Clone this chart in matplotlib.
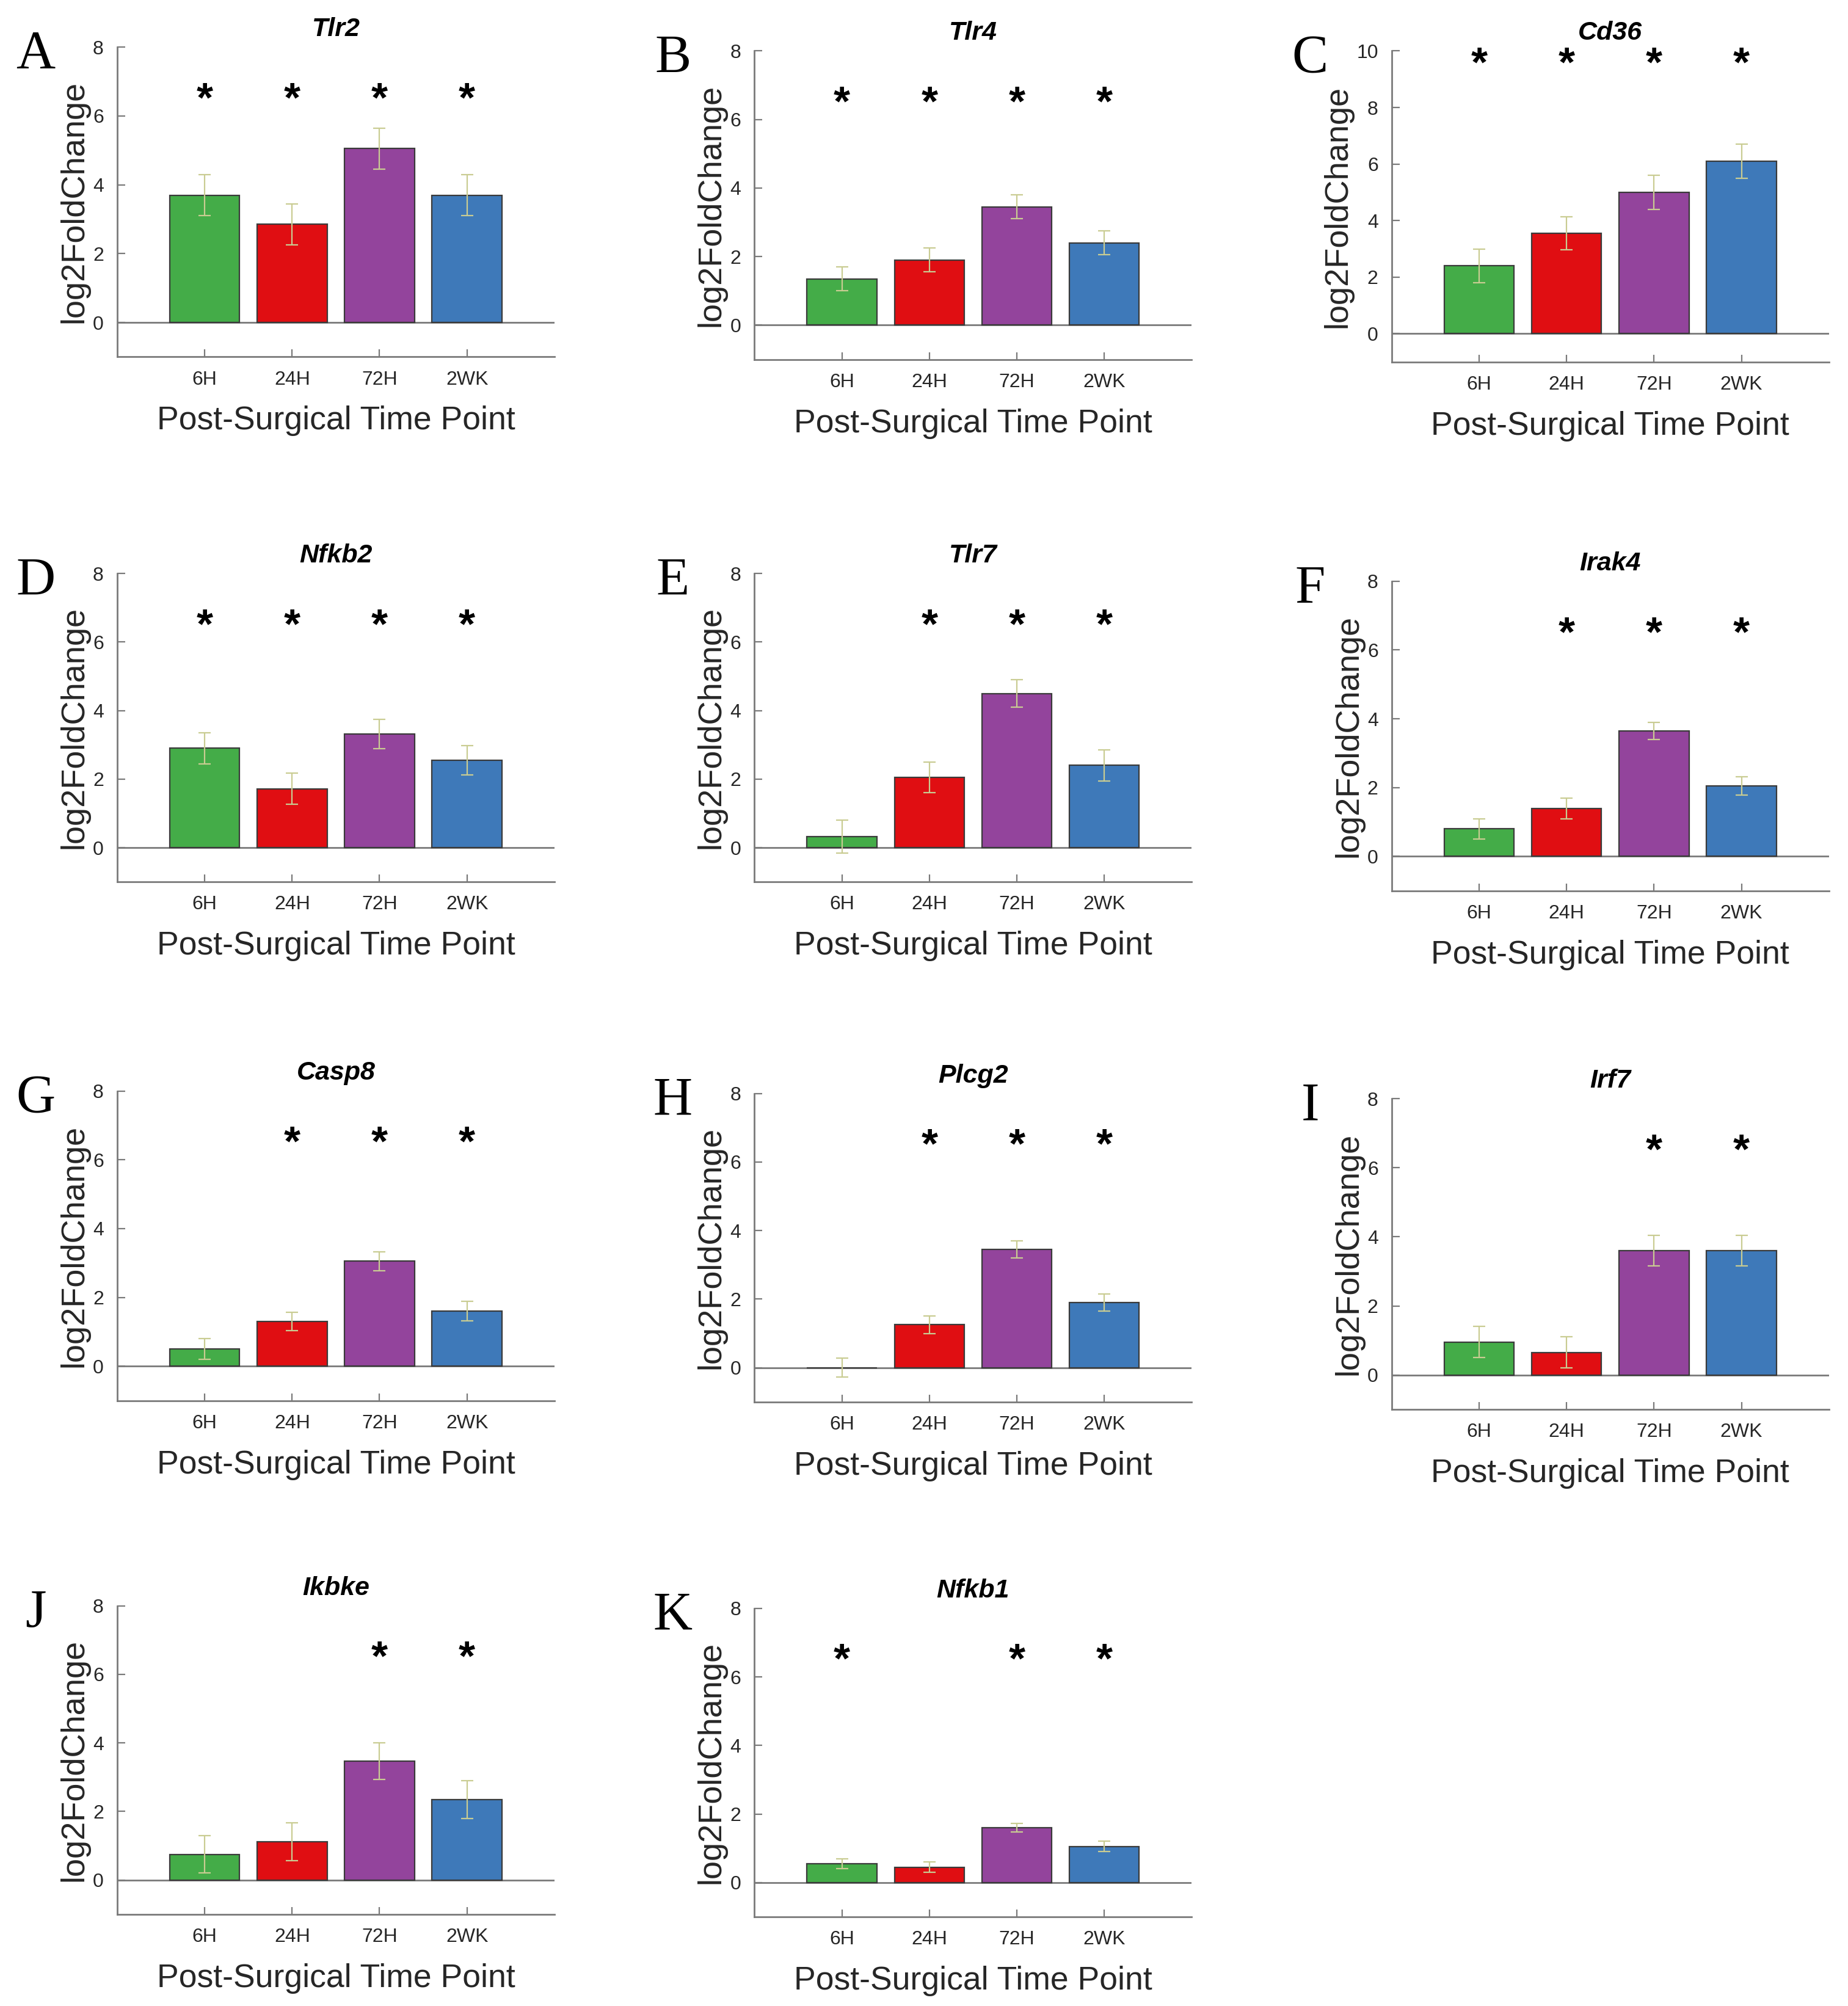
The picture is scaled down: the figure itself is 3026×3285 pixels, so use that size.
####################################################################################################
# Import Dependencies:
####################################################################################################
import numpy as np
import matplotlib
matplotlib.use("Agg")
import matplotlib.pyplot as plt

####################################################################################################
# Data
####################################################################################################
timePoints = ['6H', '24H', '72H', '2WK']
panelLetters = ['A', 'B', 'C', 'D', 'E', 'F', 'G', 'H', 'I', 'J', 'K']
geneNames = ['Tlr2', 'Tlr4', 'Cd36', 'Nfkb2', 'Tlr7', 'Irak4', 'Casp8', 'Plcg2', 'Irf7', 'Ikbke', 'Nfkb1']

tlr2 = [3.70, 2.85, 5.05, 3.70]
tlr4 = [1.35, 1.90, 3.45, 2.40]
cd36 = [2.40, 3.55, 5.00, 6.10]
nfkb2 = [2.90, 1.72, 3.32, 2.55]
tlr7 = [0.32, 2.05, 4.50, 2.40]
irak4 = [0.80, 1.40, 3.65, 2.05]
casp8 = [0.50, 1.30, 3.05, 1.60]
plcg2 = [0.00, 1.25, 3.45, 1.90]
irf7 = [0.95, 0.65, 3.60, 3.60]
ikbke = [0.75, 1.12, 3.47, 2.35]
nfkb1 = [0.55, 0.45, 1.60, 1.05]

tlr2Err = [0.60, 0.60, 0.60, 0.60]
tlr4Err = [0.35, 0.35, 0.35, 0.35]
cd36Err = [0.60, 0.58, 0.60, 0.60]
nfkb2Err = [0.45, 0.45, 0.43, 0.42]
tlr7Err = [0.48, 0.45, 0.40, 0.45]
irak4Err = [0.30, 0.30, 0.25, 0.27]
casp8Err = [0.30, 0.27, 0.27, 0.28]
plcg2Err = [0.27, 0.25, 0.25, 0.25]
irf7Err = [0.45, 0.45, 0.45, 0.45]
ikbkeErr = [0.55, 0.55, 0.53, 0.55]
nfkb1Err = [0.15, 0.15, 0.12, 0.15]

# significance flags (1 = star drawn above bar)
tlr2Sig = [1, 1, 1, 1]
tlr4Sig = [1, 1, 1, 1]
cd36Sig = [1, 1, 1, 1]
nfkb2Sig = [1, 1, 1, 1]
tlr7Sig = [0, 1, 1, 1]
irak4Sig = [0, 1, 1, 1]
casp8Sig = [0, 1, 1, 1]
plcg2Sig = [0, 1, 1, 1]
irf7Sig = [0, 0, 1, 1]
ikbkeSig = [0, 0, 1, 1]
nfkb1Sig = [1, 0, 1, 1]

yTop = [8, 8, 10, 8, 8, 8, 8, 8, 8, 8, 8]
starLevel = [6.45, 6.45, 9.5, 6.45, 6.45, 6.45, 6.45, 6.45, 6.45, 6.45, 6.45]

####################################################################################################
# Styling / layout
####################################################################################################
barColors = ['#44AC48', '#E00E12', '#93449C', '#3E79B9']
errColor = '#C9CC92'
axisColor = '#7A7A7A'

W, H = 1450.0, 1574.0   # reference thumbnail size used for measuring
# (left, top, right, bottom) of each axes in thumbnail pixels
panelBoxes = [(92, 37, 435, 280), (592, 40, 935, 282), (1092, 40, 1435, 284),
              (92, 450, 435, 692), (592, 450, 935, 692), (1092, 456, 1435, 699),
              (92, 856, 435, 1099), (592, 858, 935, 1100), (1092, 862, 1435, 1106),
              (92, 1260, 435, 1502), (592, 1262, 935, 1504)]

allValues = [tlr2, tlr4, cd36, nfkb2, tlr7, irak4, casp8, plcg2, irf7, ikbke, nfkb1]
allErrors = [tlr2Err, tlr4Err, cd36Err, nfkb2Err, tlr7Err, irak4Err, casp8Err, plcg2Err,
             irf7Err, ikbkeErr, nfkb1Err]
allSig = [tlr2Sig, tlr4Sig, cd36Sig, nfkb2Sig, tlr7Sig, irak4Sig, casp8Sig, plcg2Sig,
          irf7Sig, ikbkeSig, nfkb1Sig]

sansFont = 'Liberation Sans'
serifFont = 'Liberation Serif'


####################################################################################################
# Function: draw one panel
####################################################################################################
def drawPanel(fig, idx):
    l, t, r, b = panelBoxes[idx]
    ax = fig.add_axes([l / W, 1 - b / H, (r - l) / W, (b - t) / H])

    xPos = np.arange(1, len(timePoints) + 1)
    vals = allValues[idx]
    errs = allErrors[idx]

    ax.bar(xPos, vals, width=0.8, color=barColors, edgecolor='#3A3A3A', linewidth=1.6, zorder=2)
    ax.errorbar(xPos, vals, yerr=errs, fmt='none', ecolor=errColor, elinewidth=1.6,
                capsize=7, capthick=1.6, zorder=3)
    ax.axhline(0, color=axisColor, linewidth=2.0, zorder=1)

    for i, s in enumerate(allSig[idx]):
        if s:
            ax.text(xPos[i], starLevel[idx], '*', ha='center', va='center', fontsize=50,
                    fontweight='bold', family=sansFont, color='black')

    ax.set_xlim(0, 5)
    ax.set_ylim(-1, yTop[idx])
    ax.set_yticks(np.arange(0, yTop[idx] + 1, 2))
    ax.set_xticks(xPos)
    ax.set_xticklabels(timePoints)

    for side in ['top', 'right']:
        ax.spines[side].set_visible(False)
    for side in ['left', 'bottom']:
        ax.spines[side].set_color(axisColor)
        ax.spines[side].set_linewidth(2.0)

    ax.tick_params(axis='both', direction='in', length=9, width=1.6, color=axisColor,
                   labelcolor='#262626', labelsize=23, pad=16)
    for lab in ax.get_xticklabels() + ax.get_yticklabels():
        lab.set_family(sansFont)

    ax.set_ylabel('log2FoldChange', fontsize=39, family=sansFont, color='#262626', labelpad=4)
    ax.set_xlabel('Post-Surgical Time Point', fontsize=38.5, family=sansFont, color='#262626',
                  labelpad=20)
    ax.set_title(geneNames[idx], fontsize=31, fontweight='bold', fontstyle='italic',
                 family=sansFont, pad=13)

    # Panel letter
    fig.text((l - 64) / W, 1 - (t + 6) / H, panelLetters[idx], fontsize=64, family=serifFont,
             ha='center', va='center', color='black')
    return ax


####################################################################################################
# Main
####################################################################################################
fig = plt.figure(figsize=(30.26, 32.85), dpi=100)
fig.patch.set_facecolor('white')

for k in range(len(geneNames)):
    drawPanel(fig, k)

fig.savefig('out.png', dpi=100, facecolor='white')
plt.close(fig)
print("Graph plotted: out.png")
